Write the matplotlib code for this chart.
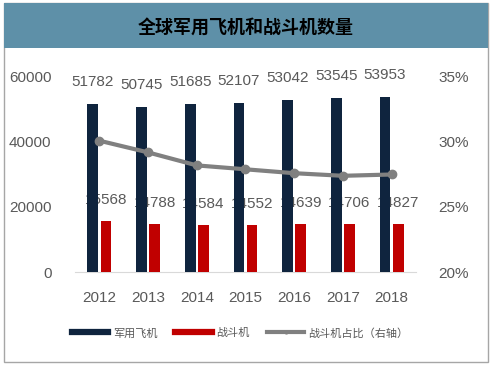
import matplotlib.pyplot as plt
from matplotlib.lines import Line2D
from matplotlib.patches import Rectangle
import numpy as np

years = ["2012", "2013", "2014", "2015", "2016", "2017", "2018"]
military = [51782, 50745, 51685, 52107, 53042, 53545, 53953]
fighters = [15568, 14788, 14584, 14552, 14639, 14706, 14827]
fighter_share = [30.1, 29.2, 28.2, 27.9, 27.6, 27.4, 27.5]  # percent

NUM_FONT = ["Liberation Sans", "DejaVu Sans"]
CJK_FONT = ["Noto Sans CJK SC", "DejaVu Sans"]
NUM_SIZE = 11
GREY_TEXT = "#595959"
NAVY = "#0F243E"
RED = "#C00000"
LINE_GREY = "#808080"

W, H = 493, 366
fig = plt.figure(figsize=(W / 100, H / 100), dpi=100)

# outer frame and title banner
fig.patches.append(Rectangle((4 / W, 4 / H), 484 / W, 359 / H, transform=fig.transFigure,
                             facecolor="white", edgecolor="#A6A6A6", lw=1, zorder=-2))
fig.patches.append(Rectangle((4 / W, (H - 48) / H), 484 / W, 45 / H, transform=fig.transFigure,
                             facecolor="#5E90A8", edgecolor="none", zorder=-1))
fig.text(246 / W, (H - 27) / H, "全球军用飞机和战斗机数量", ha="center", va="center",
         fontsize=13, fontweight="bold", color="black", family=CJK_FONT)

ax = fig.add_axes([75 / W, 94 / H, 341 / W, 195 / H])
x = np.arange(len(years))
bw = 0.22
off = 0.135

ax.bar(x - off, military, bw, color=NAVY, zorder=3)
ax.bar(x + off, fighters, bw, color=RED, zorder=3)

for xi, v in zip(x, military):
    ax.annotate(str(v), (xi - off, v), xytext=(0, 22), textcoords="offset pixels",
                ha="center", va="center", fontsize=NUM_SIZE, color=GREY_TEXT, family=NUM_FONT,
                zorder=1, annotation_clip=False)
for xi, v in zip(x, fighters):
    ax.annotate(str(v), (xi + off, v), xytext=(0, 21), textcoords="offset pixels",
                ha="center", va="center", fontsize=NUM_SIZE, color=GREY_TEXT, family=NUM_FONT,
                zorder=1, annotation_clip=False)

ax.set_xlim(-0.5, len(years) - 0.5)
ax.set_ylim(0, 60000)
ax.set_yticks([0, 20000, 40000, 60000])
ax.set_xticks(x)
ax.set_xticklabels(years)
for s in ["top", "left", "right"]:
    ax.spines[s].set_visible(False)
ax.spines["bottom"].set_color("#D9D9D9")
ax.tick_params(length=0, labelsize=NUM_SIZE, labelcolor=GREY_TEXT)
ax.tick_params(axis="y", pad=17)
ax.tick_params(axis="x", pad=14)
for lab in ax.get_xticklabels() + ax.get_yticklabels():
    lab.set_family(NUM_FONT)

ax2 = ax.twinx()
ax2.plot(x, fighter_share, color=LINE_GREY, lw=3, marker="o", ms=6, zorder=4)
ax2.set_ylim(20, 35)
ax2.set_yticks([20, 25, 30, 35])
ax2.set_yticklabels(["20%", "25%", "30%", "35%"])
for s in ax2.spines.values():
    s.set_visible(False)
ax2.tick_params(length=0, labelsize=NUM_SIZE, labelcolor=GREY_TEXT, pad=16)
for lab in ax2.get_yticklabels():
    lab.set_family(NUM_FONT)

handles = [Line2D([0], [0], color=NAVY, lw=4.5),
           Line2D([0], [0], color=RED, lw=4.5),
           Line2D([0], [0], color=LINE_GREY, lw=3, marker="o", ms=2)]
fig.legend(handles, ["军用飞机", "战斗机", "战斗机占比（右轴）"], ncol=3,
           loc="center", bbox_to_anchor=(240 / W, 33 / H), frameon=False,
           prop={"family": CJK_FONT, "size": 8}, labelcolor=GREY_TEXT,
           handlelength=3.3, handletextpad=0.4, columnspacing=1.6)

fig.savefig("out.png", dpi=100)
